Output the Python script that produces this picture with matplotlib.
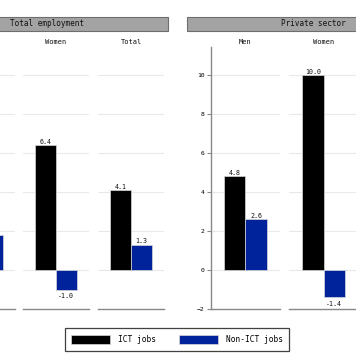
import matplotlib
matplotlib.use("Agg")
import matplotlib.pyplot as plt
from matplotlib.patches import Rectangle, Patch
import numpy as np

plt.rcParams['font.family'] = ['DejaVu Sans Mono']

panels = ["Total employment", "Private sector"]
groups = ["Men", "Women", "Total"]
series = ["ICT jobs", "Non-ICT jobs"]
ict_values = {"Total employment": [3.0, 6.4, 4.1],
              "Private sector": [4.8, 10.0, 6.0]}
nonict_values = {"Total employment": [1.8, -1.0, 1.3],
                 "Private sector": [2.6, -1.4, 1.2]}
yticks = [-2, 0, 2, 4, 6, 8, 10]
colors = ["#000000", "#00229A"]

W, H = 356, 364
fig = plt.figure(figsize=(W / 100, H / 100), dpi=100)

def fx(x):
    return x / W

def fy(y):
    return 1 - y / H

# layout (pixel coordinates)
panel_sub_lefts = {"Total employment": [-51, 23, 98],
                   "Private sector": [211, 289, 366]}
sub_widths = {"Total employment": 66, "Private sector": 69}
strip_x = {"Total employment": (-75, 168), "Private sector": (187, 439)}
ax_top, ax_bot = 47, 309
ylim = (-2, 11.44)

for p in panels:
    for gi, g in enumerate(groups):
        left = panel_sub_lefts[p][gi]
        w = sub_widths[p]
        ax = fig.add_axes([fx(left), fy(ax_bot), w / W, (ax_bot - ax_top) / H])
        vals = [ict_values[p][gi], nonict_values[p][gi]]
        pos = np.arange(len(series))
        bars = ax.bar(pos, vals, width=1.0, color=colors,
                      edgecolor="#d8d8d8", linewidth=0.5, zorder=3)
        for b, v in zip(bars, vals):
            cx = b.get_x() + b.get_width() / 2
            if v >= 0:
                ax.annotate(f"{v:.1f}", (cx, v), xytext=(0, 0.3),
                            textcoords="offset points", ha="center",
                            va="bottom", fontsize=4.8, color="#111111")
            else:
                ax.annotate(f"{v:.1f}", (cx, v), xytext=(0, -2.5),
                            textcoords="offset points", ha="center",
                            va="top", fontsize=4.8, color="#111111")
        ax.set_xlim(-1.1, 2.1)
        ax.set_ylim(*ylim)
        ax.set_yticks(yticks)
        ax.grid(axis="y", color="#e9e9e9", linewidth=0.8, zorder=0)
        ax.set_xticks([])
        for s in ["top", "right"]:
            ax.spines[s].set_visible(False)
        ax.spines["bottom"].set_color("#888888")
        ax.spines["bottom"].set_linewidth(1.0)
        if gi == 0:
            ax.spines["left"].set_color("#888888")
            ax.spines["left"].set_linewidth(1.0)
            ax.tick_params(axis="y", length=3, width=0.8, color="#888888",
                           labelsize=4.6, pad=1.5)
        else:
            ax.spines["left"].set_visible(False)
            ax.tick_params(axis="y", length=0, labelleft=False)
        ax.set_title(g, fontsize=5.0, pad=2.5, color="#111111")
    # strip
    x0, x1 = strip_x[p]
    fig.patches.append(Rectangle((fx(x0), fy(31)), (x1 - x0) / W, 14 / H,
                                 transform=fig.transFigure, facecolor="#a3a3a3",
                                 edgecolor="#6e6e6e", linewidth=0.8))
    fig.text(fx((x0 + x1) / 2), fy(24), p, ha="center", va="center",
             fontsize=5.5, color="#111111")

handles = [Patch(facecolor=c, edgecolor="#d8d8d8", linewidth=0.5) for c in colors]
leg = fig.legend(handles, series, loc="center", bbox_to_anchor=(fx(177), fy(339.5)),
                 ncol=2, fontsize=5.7, frameon=True, fancybox=False,
                 edgecolor="#111111", handlelength=4.9, handleheight=1.4,
                 handletextpad=1.0, columnspacing=2.9, borderpad=0.85,
                 borderaxespad=0)
leg.get_frame().set_linewidth(0.9)

fig.savefig("out.png", dpi=100)
